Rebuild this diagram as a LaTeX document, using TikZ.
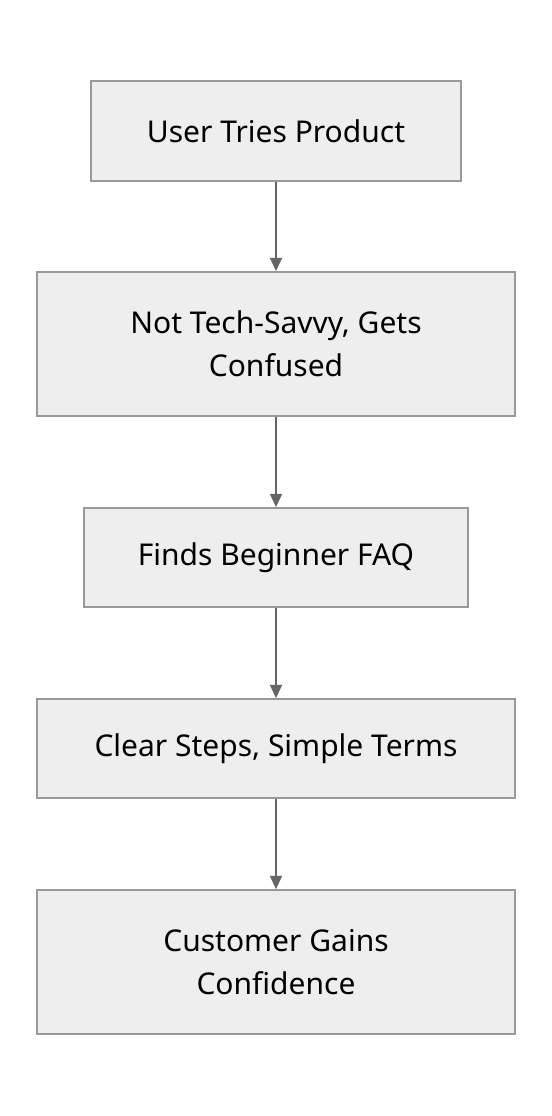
\documentclass[tikz,border=0pt]{standalone}
\usepackage{fontspec}
\setmainfont{Noto Sans}
\usepackage{tikz}
\usetikzlibrary{arrows.meta}

\definecolor{boxfill}{HTML}{EEEEEE}
\definecolor{boxline}{HTML}{999999}
\definecolor{arrline}{HTML}{666666}

\begin{document}
\begin{tikzpicture}[x=0.75pt,y=-0.75pt,
	stepbox/.style={draw=boxline, fill=boxfill, line width=1.3pt, align=center,
		inner sep=0pt, font=\fontsize{22.5}{32}\selectfont},
	flow/.style={draw=arrline, line width=1.4pt, -{Triangle[length=10pt,width=9pt]}}]
	\useasboundingbox (0,0) rectangle (552,1116);
	\node[stepbox, minimum width=370*0.75pt, minimum height=100*0.75pt] (try) at (276,131) {User Tries Product};
	\node[stepbox, minimum width=478*0.75pt, minimum height=144*0.75pt] (confused) at (276,344) {Not Tech-Savvy, Gets\\Confused};
	\node[stepbox, minimum width=384*0.75pt, minimum height=99*0.75pt] (faq) at (276,557.5) {Finds Beginner FAQ};
	\node[stepbox, minimum width=478*0.75pt, minimum height=99*0.75pt] (steps) at (276,748.5) {Clear Steps, Simple Terms};
	\node[stepbox, minimum width=478*0.75pt, minimum height=144*0.75pt] (confident) at (276,962) {Customer Gains\\ Confidence};
	\foreach \a/\b in {try/confused,confused/faq,faq/steps,steps/confident}
	{
		\draw[flow] (\a) -- (\b);
	}
\end{tikzpicture}
\end{document}
